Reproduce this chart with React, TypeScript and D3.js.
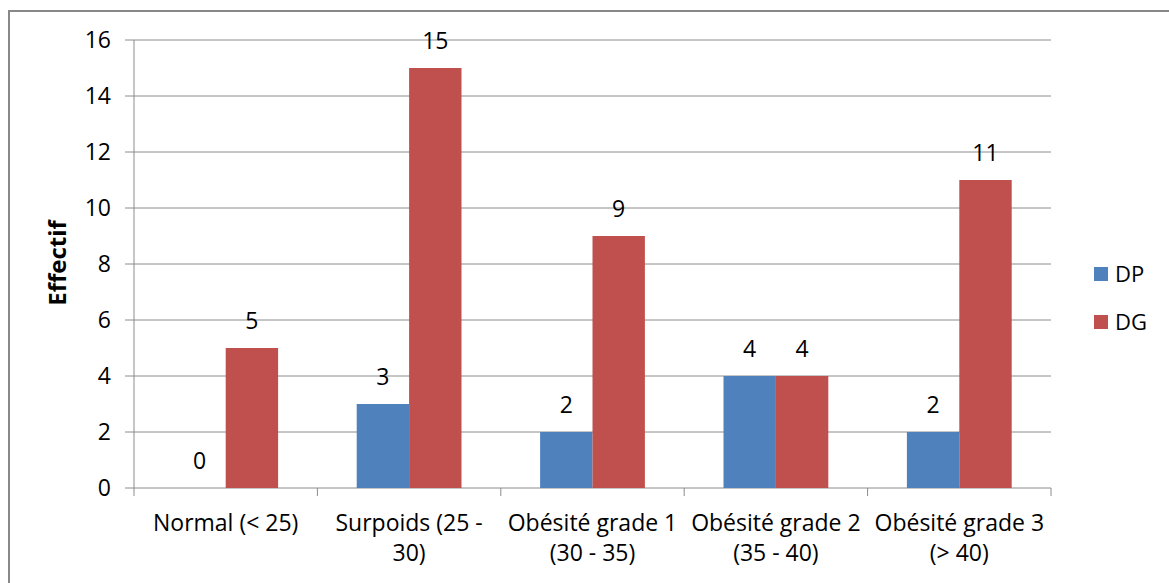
import React from "react";
import * as d3 from "d3";

const categories: string[][] = [
  ["Normal (< 25)"],
  ["Surpoids (25 -", "30)"],
  ["Obésité grade 1", "(30 - 35)"],
  ["Obésité grade 2", "(35 - 40)"],
  ["Obésité grade 3", "(> 40)"],
];
const seriesNames = ["DP", "DG"];
const dpValues = [0, 3, 2, 4, 2];
const dgValues = [5, 15, 9, 4, 11];
const yTicks = [0, 2, 4, 6, 8, 10, 12, 14, 16];
const colors = ["#4F81BD", "#C0504D"];

export default function App() {
  const W = 1169, H = 583;
  const left = 134, right = 1051, top = 40, bottom = 488;
  const font = "'Open Sans', sans-serif";
  const fs = 23;
  const x = d3.scaleBand<number>().domain(d3.range(categories.length)).range([left, right]).paddingInner(0).paddingOuter(0);
  const y = d3.scaleLinear().domain([0, 16]).range([bottom, top]);
  const bw = x.bandwidth() / 3.5;
  const series = [dpValues, dgValues];
  return (
    <svg width={W} height={H} style={{ position: "absolute", left: 0, top: 0 }}>
      <rect x={0} y={0} width={W} height={H} fill="#fff" />
      <rect x={9} y={11} width={W + 20} height={H + 20} fill="none" stroke="#888" strokeWidth={2} />
      {yTicks.map((t) => (
        <g key={t}>
          <line x1={left - 9} x2={right} y1={y(t)} y2={y(t)} stroke="#8c8c8c" strokeWidth={1} />
          <text x={left - 23} y={y(t)} dy="0.35em" textAnchor="end" fontFamily={font} fontSize={fs} fill="#000">{t}</text>
        </g>
      ))}
      <line x1={left} x2={left} y1={top} y2={bottom} stroke="#8c8c8c" />
      {d3.range(categories.length + 1).map((i) => {
        const xx = left + i * x.step();
        return <line key={i} x1={xx} x2={xx} y1={bottom} y2={bottom + 8} stroke="#8c8c8c" />;
      })}
      {series.map((vals, s) =>
        vals.map((v, i) => {
          const bx = (x(i) as number) + x.bandwidth() * 0.75 / 3.5 + s * bw;
          return (
            <g key={s + "-" + i}>
              {v > 0 && <rect x={bx} y={y(v)} width={bw} height={bottom - y(v)} fill={colors[s]} />}
              <text x={bx + bw / 2} y={y(v) - 27} dy="0.35em" textAnchor="middle" fontFamily={font} fontSize={fs} fill="#000">{v}</text>
            </g>
          );
        })
      )}
      {categories.map((lines, i) => (
        <text key={i} x={(x(i) as number) + x.bandwidth() / 2} y={523} textAnchor="middle" fontFamily={font} fontSize={fs} fill="#000">
          {lines.map((l, j) => (
            <tspan key={j} x={(x(i) as number) + x.bandwidth() / 2} dy={j === 0 ? "0.35em" : 30}>{l}</tspan>
          ))}
        </text>
      ))}
      <text transform={`translate(58,263) rotate(-90)`} dy="0.35em" textAnchor="middle" fontFamily={font} fontSize={24} fontWeight="bold" fill="#000">Effectif</text>
      {seriesNames.map((n, i) => (
        <g key={n}>
          <rect x={1094} y={267 + i * 48} width={14} height={14} fill={colors[i]} />
          <text x={1115} y={274.5 + i * 48} dy="0.35em" fontFamily={font} fontSize={22} fill="#000">{n}</text>
        </g>
      ))}
    </svg>
  );
}
